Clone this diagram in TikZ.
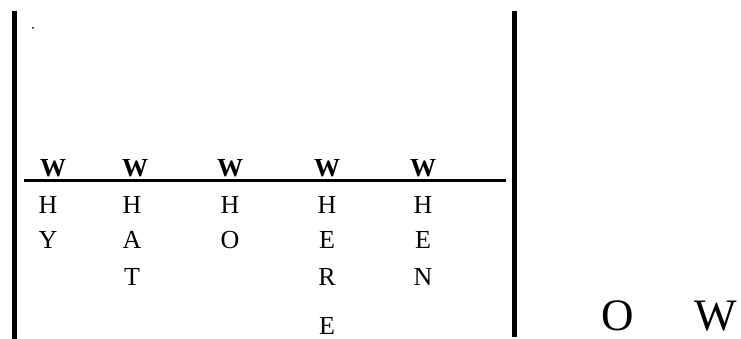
\documentclass[tikz,border=0pt]{standalone}
\usepackage{fontspec}
\setmainfont{Liberation Serif}
\usetikzlibrary{positioning}
\tikzset{
  letter/.style={inner sep=0pt, anchor=base, font=\fontsize{26}{28}\selectfont},
  bigletter/.style={inner sep=0pt, anchor=base, font=\fontsize{45}{47}\selectfont},
  bar/.style={line width=4.5pt}
}

\begin{document}
\begin{tikzpicture}[x=1pt, y=-1pt,
        head/.style={letter, font=\fontsize{26}{28}\selectfont\bfseries},
        rule/.style={line width=3pt}]
        \useasboundingbox (0,0) rectangle (741,339);

        % === BARRAS ===
        \coordinate (ltop) at (14.5,11);
        \coordinate (lbot) at (14.5,339);
        \coordinate (rtop) at (514.5,11);
        \coordinate (rbot) at (514.5,337);
        \draw [bar] (ltop) -- (lbot);
        \draw [bar] (rtop) -- (rbot);
        \node (dot) [circle, fill=black, inner sep=0pt, minimum size=2pt] at (33,28) {};

        % === CABECERAS ===
        \node (w1) [head] at (53,177) {W};
        \node (w2) [head] at (135,177) {W};
        \node (w3) [head] at (230,177) {W};
        \node (w4) [head] at (327,177) {W};
        \node (w5) [head] at (423,177) {W};
        \coordinate (rl) at (24,181);
        \coordinate (rr) at (506,181);
        \draw [rule] (rl) -- (rr);

        % === COLUMNAS ===
        \node (why1) [letter] at (48,214) {H};
        \node (why2) [letter] at (48,248) {Y};
        \node (what1) [letter] at (132,214) {H};
        \node (what2) [letter] at (132,248) {A};
        \node (what3) [letter] at (132,285) {T};
        \node (who1) [letter] at (230,214) {H};
        \node (who2) [letter] at (230,248) {O};
        \node (where1) [letter] at (327,214) {H};
        \node (where2) [letter] at (327,248) {E};
        \node (where3) [letter] at (327,285) {R};
        \node (where4) [letter] at (327,334) {E};
        \node (when1) [letter] at (423,214) {H};
        \node (when2) [letter] at (423,248) {E};
        \node (when3) [letter] at (423,285) {N};

        % === DERECHA ===
        \node (howo) [bigletter] at (618,330) {O};
        \node (howw) [bigletter] at (716,330) {W};
    \end{tikzpicture}
\end{document}
